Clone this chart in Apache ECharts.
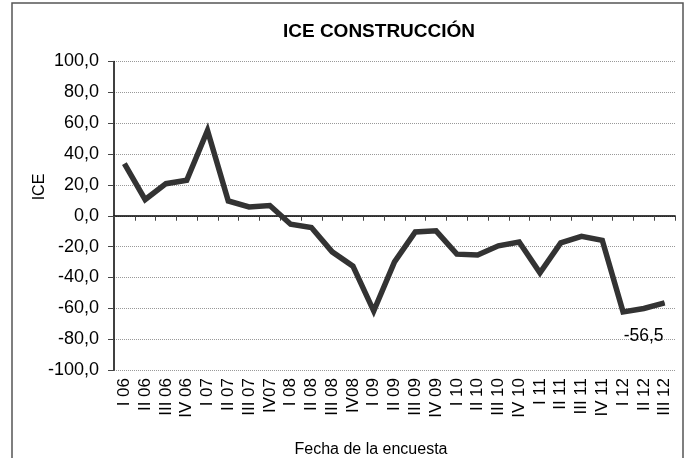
<!DOCTYPE html>
<html lang="es">
<head>
    <meta charset="UTF-8">
    <title>ICE Construcción</title>
    <script src="https://cdn.jsdelivr.net/npm/echarts@6/dist/echarts.min.js"></script>
    <style type="text/css">
        *{margin: 0;padding: 0;border: none}
        html,body{width: 100%;height: 100%;overflow: hidden;background: #fff}
        #main{width: 689px;height: 458px}
    </style>
</head>
<body>
<div id="main"></div>
<script type="text/javascript">
    // trimestres de la encuesta
    var trimestres = ['I 06', 'II 06', 'III 06', 'IV 06', 'I 07', 'II 07', 'III 07', 'IV07',
        'I 08', 'II 08', 'III 08', 'IV08', 'I 09', 'II 09', 'III 09', 'IV 09',
        'I 10', 'II 10', 'III 10', 'IV 10', 'I 11', 'II 11', 'III 11', 'IV 11',
        'I 12', 'II 12', 'III 12'];
    // valores del ICE
    var valoresIce = [33.8, 10.5, 20.8, 23.0, 55.3, 9.6, 5.7, 6.6,
        -5.5, -7.6, -23.4, -32.7, -61.8, -29.9, -10.5, -9.8,
        -24.9, -25.4, -19.5, -17.0, -37.0, -17.6, -13.3, -15.9,
        -62.3, -60.1, -56.5];
    var ticksY = {min: -100, max: 100, interval: 20};

    var fuente = 'Liberation Sans, Arial, sans-serif';
    function coma(v) {
        return v.toFixed(1).replace('.', ',');
    }

    // solo el ultimo punto lleva etiqueta
    var datos = valoresIce.map(function (v, i) {
        if (i === valoresIce.length - 1) {
            return {
                value: v,
                symbol: 'circle',
                symbolSize: 1,
                itemStyle: {color: '#333'},
                label: {
                    show: true,
                    position: 'bottom',
                    distance: 24,
                    offset: [-21, 0],
                    formatter: function (p) { return coma(p.value); },
                    color: '#000',
                    fontSize: 17.5,
                    fontFamily: fuente
                }
            };
        }
        return v;
    });

    var myChart = echarts.init(document.getElementById('main'));
    var option = {
        animation: false,
        backgroundColor: '#fff',
        title: {
            text: 'ICE CONSTRUCCIÓN',
            left: 374,
            textAlign: 'center',
            top: 17,
            textStyle: {
                fontSize: 19,
                fontWeight: 'bold',
                color: '#000',
                fontFamily: fuente
            }
        },
        grid: {
            left: 114,
            right: 14,
            top: 61.5,
            bottom: 88,
            containLabel: false
        },
        graphic: [
            {
                type: 'rect',
                shape: {x: 12, y: 3, width: 671, height: 470},
                style: {fill: 'none', stroke: '#555', lineWidth: 1.5},
                z: -1
            },
            {
                type: 'text',
                x: 40,
                y: 187,
                rotation: Math.PI / 2,
                style: {
                    text: 'ICE',
                    fontSize: 16,
                    fontFamily: fuente,
                    fill: '#000',
                    textAlign: 'center',
                    textVerticalAlign: 'middle'
                }
            },
            {
                type: 'text',
                x: 371,
                y: 450,
                style: {
                    text: 'Fecha de la encuesta',
                    fontSize: 16,
                    fontFamily: fuente,
                    fill: '#000',
                    textAlign: 'center',
                    textVerticalAlign: 'middle'
                }
            }
        ],
        xAxis: [
            {
                type: 'category',
                data: trimestres,
                boundaryGap: true,
                axisLine: {show: false, onZero: false},
                axisTick: {show: false},
                axisLabel: {
                    rotate: 90,
                    margin: 8,
                    interval: 0,
                    fontSize: 17,
                    color: '#000',
                    fontFamily: fuente
                }
            },
            {
                type: 'category',
                data: trimestres,
                position: 'bottom',
                boundaryGap: true,
                axisLine: {show: true, onZero: true, lineStyle: {color: '#000', width: 1.5}},
                axisTick: {show: true, length: 5, interval: 0, lineStyle: {color: '#444'}},
                axisLabel: {show: false}
            }
        ],
        yAxis: {
            type: 'value',
            min: ticksY.min,
            max: ticksY.max,
            interval: ticksY.interval,
            axisLine: {show: true, lineStyle: {color: '#000', width: 1.5}},
            axisTick: {show: true, length: 6, lineStyle: {color: '#444'}},
            axisLabel: {
                margin: 15,
                fontSize: 18,
                color: '#000',
                fontFamily: fuente,
                formatter: coma
            },
            splitLine: {
                show: true,
                lineStyle: {color: '#999', type: 'dotted', width: 1}
            }
        },
        series: [
            {
                name: 'ICE',
                type: 'line',
                xAxisIndex: 0,
                data: datos,
                showSymbol: true,
                symbol: 'none',
                lineStyle: {color: '#333', width: 5.5, join: 'miter'},
                label: {show: false}
            }
        ]
    };
    myChart.setOption(option);
</script>
</body>
</html>
